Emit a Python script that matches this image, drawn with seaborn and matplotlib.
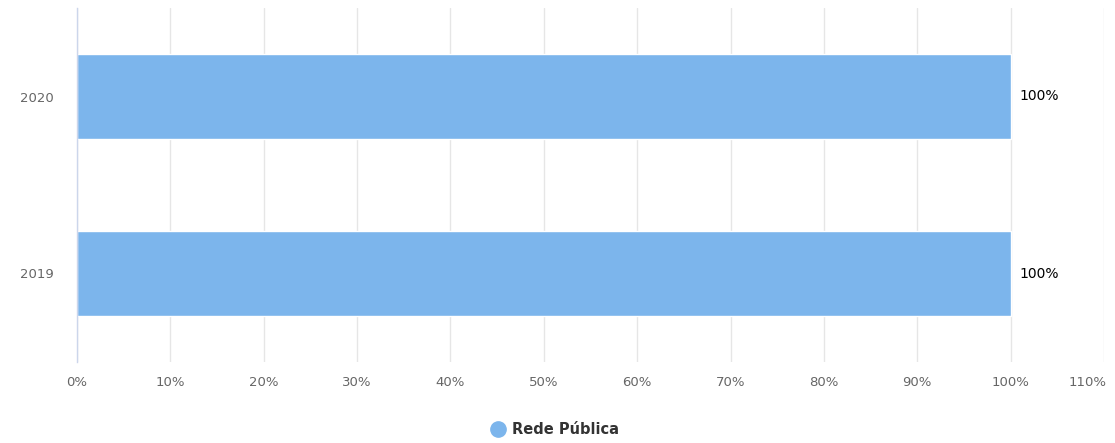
import matplotlib
matplotlib.use("Agg")
import matplotlib.pyplot as plt
import matplotlib.transforms as mtransforms
import seaborn as sns
import pandas as pd
from matplotlib.lines import Line2D

# dados
anos = ["2020", "2019"]
rede_publica = [100, 100]
serie = "Rede Pública"
x_ticks = list(range(0, 111, 10))

df = pd.DataFrame({"ano": anos, "valor": rede_publica})

sns.set_style("white")
plt.rcParams["font.family"] = ["DejaVu Sans"]

fig = plt.figure(figsize=(11.15, 4.43), dpi=100)
ax = fig.add_axes([77 / 1115, 1 - 362 / 443, (1104 - 77) / 1115, 354 / 443])

sns.barplot(data=df, x="valor", y="ano", order=anos, orient="h",
            color="#7cb5ec", width=0.475, saturation=1, ax=ax, zorder=3)

ax.set_xlim(0, 110)
ax.set_xticks(x_ticks)
ax.set_xticklabels([f"{t}%" for t in x_ticks], color="#666666", fontsize=9.5)
ax.tick_params(axis="y", labelcolor="#666666", labelsize=9.5, length=0, pad=17)
ax.tick_params(axis="x", length=0, pad=10)
ax.grid(axis="x", color="#e6e6e6", linewidth=1, zorder=0)
ax.set_xlabel("")
ax.set_ylabel("")

# último rótulo do eixo x encostado à direita, como no original
ultimo = ax.get_xticklabels()[-1]
ultimo.set_horizontalalignment("right")
ultimo.set_transform(ultimo.get_transform() +
                     mtransforms.ScaledTranslation(3 / 100, 0, fig.dpi_scale_trans))

for s in ["top", "right", "bottom"]:
    ax.spines[s].set_visible(False)
ax.spines["left"].set_color("#ccd6eb")
ax.spines["left"].set_linewidth(1)
ax.spines["left"].set_zorder(4)

# rótulos de dados
for container in ax.containers:
    ax.bar_label(container, labels=[f"{v:g}%" for v in rede_publica],
                 padding=6, fontsize=10, color="#000000")

handle = Line2D([], [], marker="o", linestyle="", markersize=11,
                markerfacecolor="#7cb5ec", markeredgecolor="#7cb5ec")
fig.legend([handle], [serie], loc="center", bbox_to_anchor=(0.497, 1 - 430 / 443),
           frameon=False, handletextpad=0.4, handlelength=1.2,
           prop={"weight": "bold", "size": 10.5})
for t in fig.legends[0].get_texts():
    t.set_color("#333333")

fig.savefig("out.png", dpi=100)
